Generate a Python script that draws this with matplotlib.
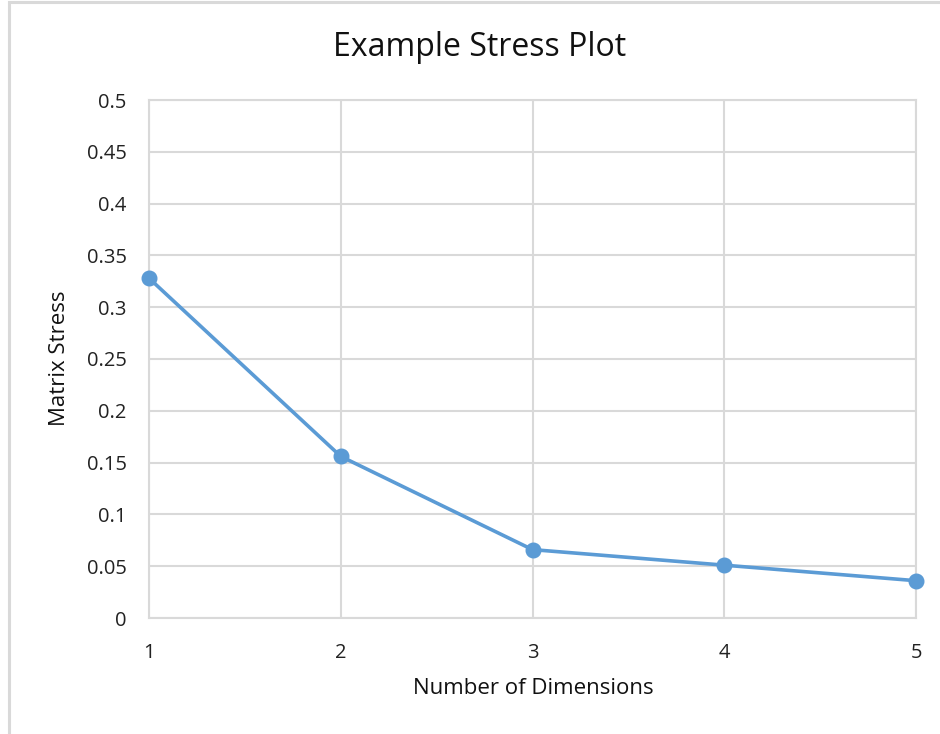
import matplotlib
matplotlib.use("Agg")
import matplotlib.pyplot as plt
from matplotlib.patches import Rectangle

# data
dims = [1, 2, 3, 4, 5]
stress = [0.328, 0.156, 0.066, 0.051, 0.036]
yticks = [0, 0.05, 0.1, 0.15, 0.2, 0.25, 0.3, 0.35, 0.4, 0.45, 0.5]
ytick_labels = ["0", "0.05", "0.1", "0.15", "0.2", "0.25", "0.3", "0.35", "0.4", "0.45", "0.5"]

plt.rcParams['font.family'] = ['Open Sans', 'DejaVu Sans']

fig = plt.figure(figsize=(9.4, 7.34), dpi=100)
# outer chart border (only left and top visible in the reference)
fig.patches.append(Rectangle((9/940, -0.1), 1.2, (734-2)/734 + 0.1, transform=fig.transFigure,
                             fill=False, edgecolor='#d9d9d9', linewidth=2.2))

ax = fig.add_axes([149/940, 1-618/734, (916-149)/940, (618-100)/734])
ax.plot(dims, stress, color='#5b9bd5', linewidth=2.6, marker='o', markersize=10.5,
        zorder=3, clip_on=False)

ax.set_xlim(1, 5)
ax.set_ylim(0, 0.5)
ax.set_xticks(dims)
ax.set_yticks(yticks)
ax.set_yticklabels(ytick_labels)
ax.grid(True, color='#d9d9d9', linewidth=1.5)
ax.set_axisbelow(True)
for s in ax.spines.values():
    s.set_color('#d9d9d9')
    s.set_linewidth(1.5)
ax.tick_params(length=0, labelsize=14.5, colors='#222222')
ax.tick_params(axis='x', pad=18)
ax.tick_params(axis='y', pad=16)

fig.text(480/940, 1-47/734, "Example Stress Plot", fontsize=23, color='#111111',
         ha='center', va='center')
fig.text(533/940, 1-689/734, "Number of Dimensions", fontsize=16, color='#111111',
         ha='center', va='center')
fig.text(60/940, 1-358/734, "Matrix Stress", fontsize=16, color='#111111',
         ha='center', va='center', rotation=90)

fig.savefig("out.png", dpi=100)
